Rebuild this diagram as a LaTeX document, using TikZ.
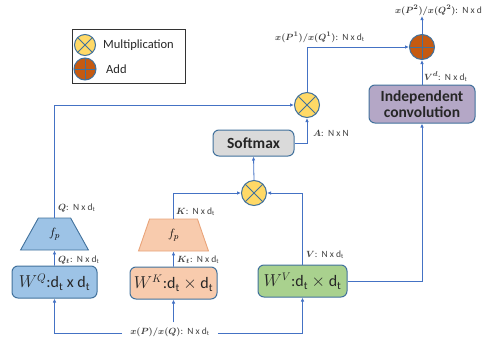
\documentclass[tikz,border=0pt]{standalone}
\usepackage{fontspec}
\setmainfont{Carlito}
\usepackage{amsmath,bm}
\usetikzlibrary{shapes.geometric,arrows.meta}
\definecolor{lineblue}{HTML}{4472C4}
\definecolor{boxborder}{HTML}{41719C}
\definecolor{bluefill}{HTML}{9DC3E6}
\definecolor{salmonfill}{HTML}{F8CBAD}
\definecolor{salmonborder}{HTML}{E9A47A}
\definecolor{greenfill}{HTML}{A9D18E}
\definecolor{greyfill}{HTML}{DADADA}
\definecolor{purplefill}{HTML}{B4A7C6}
\definecolor{multyellow}{HTML}{FFD966}
\definecolor{addorange}{HTML}{C55A11}
\definecolor{labelgray}{HTML}{404040}
\definecolor{textdark}{HTML}{262626}
\newcommand{\bmath}[1]{{\boldmath$#1$}}
\begin{document}
\begin{tikzpicture}[x=1pt,y=-1pt,
  box/.style={draw=boxborder, line width=1pt, rounded corners=6pt, inner sep=0pt, text=textdark, font=\fontsize{16}{16}\selectfont},
  trap/.style={trapezium, trapezium stretches=true, line width=0.9pt, inner sep=0pt, minimum height=32pt, font=\fontsize{13}{13}\selectfont},
  mult/.style={circle, draw=boxborder, fill=multyellow, line width=1pt, minimum size=25pt, inner sep=0pt,
    path picture={\draw[boxborder, line width=0.9pt] (path picture bounding box.north west) -- (path picture bounding box.south east)
      (path picture bounding box.north east) -- (path picture bounding box.south west);}},
  addc/.style={circle, draw=boxborder, fill=addorange, line width=1pt, minimum size=25pt, inner sep=0pt,
    path picture={\draw[boxborder, line width=1pt] (path picture bounding box.north) -- (path picture bounding box.south)
      (path picture bounding box.east) -- (path picture bounding box.west);}},
  conn/.style={draw=lineblue, line width=0.8pt, -{Latex[length=4pt,width=3.5pt]}},
  lbl/.style={font=\fontsize{9.5}{10}\selectfont, text=labelgray, inner sep=0pt, anchor=west},
  legtext/.style={font=\fontsize{12.5}{13}\selectfont, text=textdark, inner sep=0pt, anchor=west}
]
\useasboundingbox (0,0) rectangle (482,343);

% legend
\node[draw=black!80, line width=0.8pt, minimum width=113pt, minimum height=54pt, inner sep=0pt] (legend) at (128.5,56) {};
\node[mult, minimum size=21pt] (legmult) at (85,45) {};
\node[addc, minimum size=22pt] (legadd) at (85,69) {};
\node[legtext] (legmulttext) at (103,45) {Multiplication};
\node[legtext] (legaddtext) at (106,69) {Add};

% operators
\node[addc] (addT) at (422,47) {};
\node[mult] (multT) at (307,105) {};
\node[mult] (multM) at (254,193) {};

% boxes
\node[box, fill=greyfill, font=\bfseries\fontsize{15.5}{16}\selectfont, minimum width=81pt, minimum height=26pt] (softmax) at (253.5,143) {Softmax};
\node[box, fill=purplefill, font=\bfseries\fontsize{15.5}{16}\selectfont, minimum width=106pt, minimum height=38pt, align=center] (indconv) at (422,104) {Independent\\convolution};
\node[box, fill=bluefill, minimum width=85pt, minimum height=32pt] (wq) at (54.5,282) {$W^{Q}$:d\textsubscript{t} x d\textsubscript{t}};
\node[box, fill=salmonfill, minimum width=87pt, minimum height=32pt] (wk) at (173.5,283) {$W^{K}$:d\textsubscript{t} $\times$ d\textsubscript{t}};
\node[box, fill=greenfill, minimum width=89pt, minimum height=32pt] (wv) at (302.5,281) {$W^{V}$:d\textsubscript{t} $\times$ d\textsubscript{t}};

% trapezia
\node[trap, draw=boxborder, fill=bluefill, trapezium left angle=63, trapezium right angle=63, minimum width=68pt] (fq) at (54.5,234) {$f_p$};
\node[trap, draw=salmonborder, fill=salmonfill, trapezium left angle=78, trapezium right angle=78, minimum width=70pt] (fk) at (173.5,235) {$f_p$};

% input label
\node[font=\fontsize{9.5}{10}\selectfont, text=labelgray, inner xsep=8pt, inner ysep=5pt] (xpq) at (170,332) {\bmath{x(P)/x(Q)}:~~N x d\textsubscript{t}};
\coordinate (topout) at (422,16);

% connectors
\draw[conn] (xpq.west |- 0,333) -| (wq.south);
\draw[conn] (xpq.north -| wk.south) -- (wk.south);
\draw[conn] (xpq.east |- 0,333) -| (wv.south);
\draw[conn] (wq.north) -- (fq.south);
\draw[conn] (wk.north) -- (fk.south);
\draw[conn] (fq.north) |- (multT.west);
\draw[conn] (fk.north) |- (multM.west);
\draw[conn] (wv.north) |- (multM.east);
\draw[conn] (multM.north) -- (softmax.south);
\draw[conn] (softmax.east) -| (multT.south);
\draw[conn] (multT.north) |- (addT.west);
\draw[conn] (wv.east) -| (indconv.south);
\draw[conn] (indconv.north) -- (addT.south);
\draw[conn] (addT.north) -- (topout);

% labels
\node[lbl] (lqt) at (58,260) {\bmath{Q_t}:~~N x d\textsubscript{t}};
\node[lbl] (lq) at (58,208) {\bmath{Q}:~~N x d\textsubscript{t}};
\node[lbl] (lkt) at (177,260) {\bmath{K_t}:~~N x d\textsubscript{t}};
\node[lbl] (lk) at (176,212) {\bmath{K}:~~N x d\textsubscript{t}};
\node[lbl] (lv) at (306,255) {\bmath{V}:~~N x d\textsubscript{t}};
\node[lbl] (la) at (313,133) {\bmath{A}:~~N x N};
\node[lbl] (lvd) at (424,77) {\bmath{V^d}:~~N x d\textsubscript{t}};
\node[lbl] (lp1) at (275,37) {\bmath{x(P^1)/x(Q^1)}:~~N x d\textsubscript{t}};
\node[lbl, anchor=east] (lp2) at (482,10) {\bmath{x(P^2)/x(Q^2)}:~~N x d};
\end{tikzpicture}
\end{document}
